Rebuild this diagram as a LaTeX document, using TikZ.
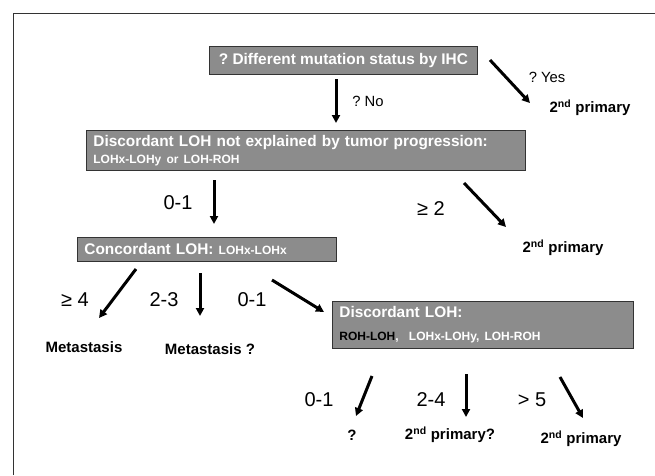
\documentclass[tikz,border=0pt]{standalone}
\usepackage{fontspec}
\setmainfont{Liberation Sans}
\usetikzlibrary{arrows.meta}
\frenchspacing

\definecolor{boxgray}{HTML}{8C8C8C}
\definecolor{framegray}{HTML}{333333}

\tikzset{
  box/.style={draw=black!80, line width=0.8pt, fill=boxgray, text=white,
    inner xsep=7pt, inner ysep=0pt, anchor=north west, align=left,
    font=\bfseries\fontsize{15.4}{17}\selectfont},
  lab/.style={font=\fontsize{20}{24}\selectfont, inner sep=0pt},
  ans/.style={font=\fontsize{14.8}{18}\selectfont, inner sep=0pt},
  res/.style={font=\bfseries\fontsize{15}{18}\selectfont, inner sep=0pt},
  arr/.style={line width=3pt, -{Triangle[length=8pt,width=8pt]}},
}
\newcommand{\sm}[1]{{\fontsize{12}{14}\selectfont #1}}
\newcommand{\snd}{2\textsuperscript{nd} primary}

\begin{document}
\begin{tikzpicture}[x=1pt, y=-1pt]
  \useasboundingbox (0,0) rectangle (655,475);
  \draw[framegray, line width=1.5pt] (13.5,475) -- (13.5,13.5) -- (655,13.5);

  % boxes
  \node[box, align=center, minimum width=268pt, minimum height=28pt] (ihc) at (209,46)
    {? Different mutation status by IHC};
  \node[box, text width=425pt, minimum height=40pt] (disc) at (86,130)
    {Discordant LOH not explained by tumor progression:\\ \sm{LOHx-LOHy or LOH-ROH}};
  \node[box, text width=245pt, minimum height=24pt] (conc) at (77,237)
    {Concordant LOH: \sm{LOHx-LOHx}};
  \node[box, text width=287pt, minimum height=47pt] (disc2) at (332,301)
    {Discordant LOH:\\[6pt] \sm{\color{black}ROH-LOH}\sm{,\ \ LOHx-LOHy, LOH-ROH}};

  % answers and outcomes
  \node[ans] (no) at (368,101) {? No};
  \node[ans] (yes) at (547,77) {? Yes};
  \node[res] (prim1) at (590,108) {\snd};
  \node[lab] (l01a) at (178,203) {0-1};
  \node[lab] (lge2) at (431,209) {≥ 2};
  \node[res] (prim2) at (563,248) {\snd};
  \node[lab] (lge4) at (75,300) {≥ 4};
  \node[lab] (l23) at (164,300) {2-3};
  \node[lab] (l01b) at (252,300) {0-1};
  \node[res] (meta) at (84,347) {Metastasis};
  \node[res] (metaq) at (210,349) {Metastasis ?};
  \node[lab] (l01c) at (319,400) {0-1};
  \node[lab] (l24) at (431,400) {2-4};
  \node[lab] (lgt5) at (532,400) {> 5};
  \node[res] (unk) at (352,435) {?};
  \node[res] (primq) at (450,435) {\snd?};
  \node[res] (prim3) at (581,439) {\snd};

  % arrow ends
  \coordinate (noA) at (336,79);   \coordinate (noB) at (336,123);
  \coordinate (yesA) at (490,60);  \coordinate (yesB) at (530,103);
  \coordinate (concA) at (214,180); \coordinate (concB) at (214,224);
  \coordinate (twoA) at (464,183); \coordinate (twoB) at (506,227);
  \coordinate (metA) at (136,269); \coordinate (metB) at (99,318);
  \coordinate (mqA) at (200,273);  \coordinate (mqB) at (200,316);
  \coordinate (dA) at (272,280);   \coordinate (dB) at (324,312);
  \coordinate (uA) at (372,376);   \coordinate (uB) at (356,416);
  \coordinate (pqA) at (466,374);  \coordinate (pqB) at (466,417);
  \coordinate (pA) at (560,377);   \coordinate (pB) at (583,418);

  \draw[arr] (noA) -- (noB);
  \draw[arr] (yesA) -- (yesB);
  \draw[arr] (concA) -- (concB);
  \draw[arr] (twoA) -- (twoB);
  \draw[arr] (metA) -- (metB);
  \draw[arr] (mqA) -- (mqB);
  \draw[arr] (dA) -- (dB);
  \draw[arr] (uA) -- (uB);
  \draw[arr] (pqA) -- (pqB);
  \draw[arr] (pA) -- (pB);
\end{tikzpicture}
\end{document}
